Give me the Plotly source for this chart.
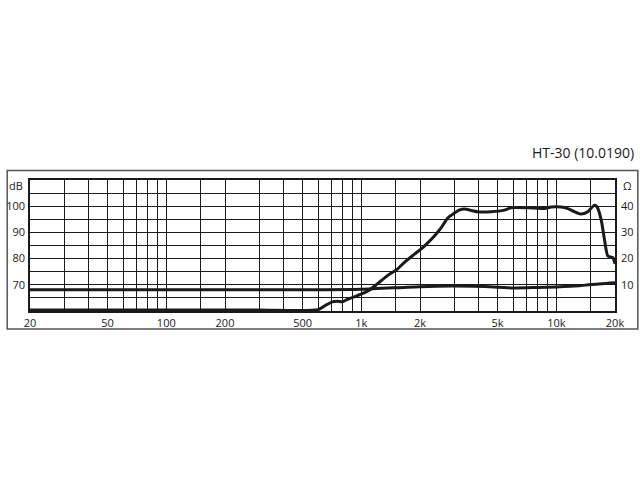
import plotly.graph_objects as go

# frequency response (dB SPL)
spl_freq = [20, 100, 300, 600, 656, 710, 753, 800, 848, 917, 1013, 1096, 1211,
            1362, 1532, 1659, 1867, 2100, 2365, 2558, 2768, 2994, 3176, 3370,
            3946, 4620, 5410, 5860, 7130, 8690, 9400, 10590, 11460, 12390,
            13400, 14510, 15700, 16200, 17000, 17670, 18380, 19500, 20000]
spl_db = [60.4, 60.4, 60.4, 60.5, 62.2, 63.5, 63.7, 63.5, 64.4, 65.4, 66.6,
          67.9, 70.4, 73.5, 76.0, 78.5, 81.6, 84.7, 88.5, 91.6, 95.4, 97.3,
          98.5, 98.9, 97.9, 97.9, 98.5, 99.4, 99.4, 99.1, 99.7, 99.7, 99.1,
          97.9, 97.0, 97.9, 100.4, 99.7, 94.7, 87.2, 81.0, 80.4, 78.0]

# impedance (ohm)
imp_freq = [20, 200, 500, 1000, 2000, 3000, 5000, 6000, 8000, 10000, 13000, 15000, 20000]
imp_ohm = [8.1, 8.1, 8.1, 8.3, 9.3, 9.5, 9.1, 8.8, 9.0, 9.2, 9.6, 10.1, 10.8]

x_ticks = [20, 50, 100, 200, 500, 1000, 2000, 5000, 10000, 20000]
x_labels = ["20", "50", "100", "200", "500", "1k", "2k", "5k", "10k", "20k"]
x_minor = [30, 40, 60, 70, 80, 90, 150, 300, 400, 600, 700, 800, 900,
           1500, 3000, 4000, 6000, 7000, 8000, 9000, 15000]
db_ticks = [70, 80, 90, 100]
db_minor = [65, 75, 85, 95, 105]
ohm_ticks = [10, 20, 30, 40]

FONT = "Open Sans"
INK = "#1a1a1a"

fig = go.Figure()

fig.add_trace(go.Scatter(x=imp_freq, y=imp_ohm, yaxis="y2", mode="lines",
                         line=dict(color=INK, width=3, shape="spline", smoothing=0.6)))
fig.add_trace(go.Scatter(x=spl_freq, y=spl_db, mode="lines",
                         line=dict(color=INK, width=3, shape="spline", smoothing=0.6)))

grid = dict(showgrid=True, gridcolor=INK, gridwidth=1.3, zeroline=False,
            showline=True, linecolor=INK, linewidth=1.5, mirror=True, ticks="",
            automargin=False)

fig.update_layout(
    width=640, height=480,
    margin=dict(l=30, r=25, t=180, b=169),
    paper_bgcolor="white", plot_bgcolor="white",
    showlegend=False,
    font=dict(family=FONT, size=11, color=INK),
    xaxis=dict(type="log", range=[1.30103, 4.30103],
               tickvals=x_ticks, ticktext=x_labels,
               minor=dict(tickvals=x_minor, showgrid=True, gridcolor=INK,
                          gridwidth=1.3, ticks=""),
               ticklabelstandoff=1, **grid),
    yaxis=dict(range=[60, 110], tickvals=db_ticks,
               minor=dict(tickvals=db_minor, showgrid=True, gridcolor=INK,
                          gridwidth=1.3, ticks=""),
               ticklabelstandoff=1, **grid),
    yaxis2=dict(range=[0, 50], overlaying="y", side="right", tickvals=ohm_ticks,
                showgrid=False, zeroline=False, ticks="", ticklabelstandoff=5,
                automargin=False),
    annotations=[
        dict(text="HT-30 (10.0190)", xref="paper", yref="paper", x=1.036, y=1.21,
             xanchor="right", yanchor="middle", showarrow=False,
             font=dict(family=FONT, size=14, color=INK)),
        dict(text="dB", xref="paper", yref="y", x=-0.008, y=107.8,
             xanchor="right", yanchor="middle", showarrow=False),
        dict(text="Ω", xref="paper", yref="y", x=1.01, y=107.8,
             xanchor="left", yanchor="middle", showarrow=False),
    ],
    shapes=[dict(type="rect", xref="paper", yref="paper",
                 x0=-0.039, x1=1.039, y0=-0.138, y1=1.073,
                 line=dict(color="#555555", width=1.5), layer="below")],
)

# drop the page's default body margin so the figure sits at the window origin
fig.write_html("out.html", config={"displayModeBar": False},
               post_script="document.body.style.margin = '0';")
